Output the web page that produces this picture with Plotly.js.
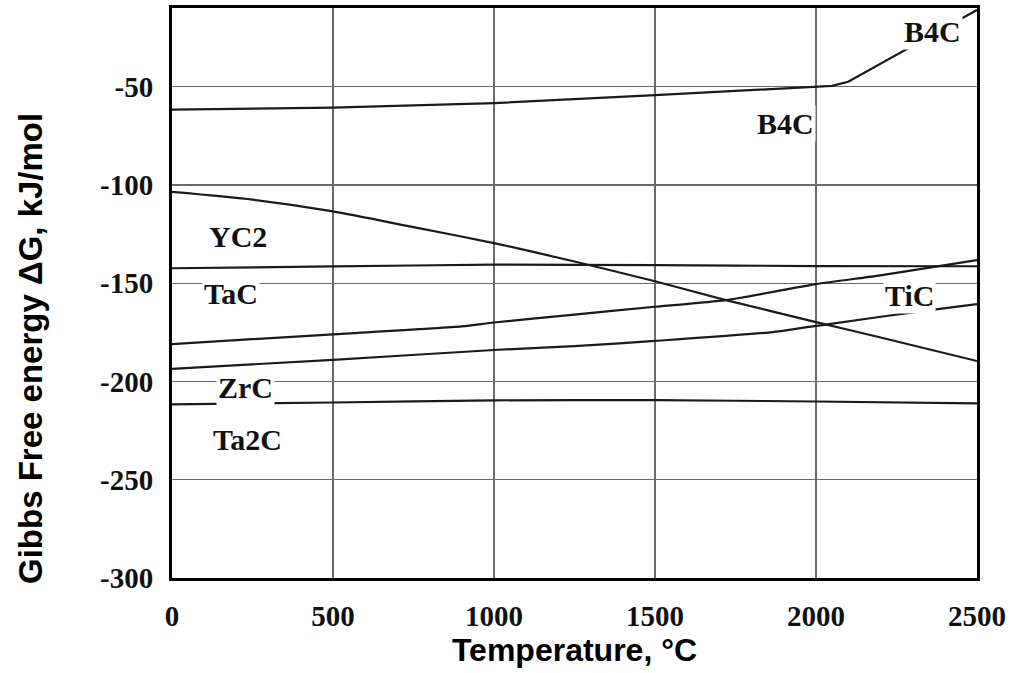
<!DOCTYPE html>
<html>
<head>
<meta charset="utf-8">
<script src="https://cdn.plot.ly/plotly-3.0.1.min.js"></script>
<style>html,body{margin:0;padding:0;background:#fff;}#chart{width:1011px;height:673px;}</style>
</head>
<body>
<div id="chart"></div>
<script>
// Temperature (°C) and ΔG (kJ/mol)
const b4cT   = [0, 500, 1000, 1250, 1500, 1750, 2000, 2050, 2100, 2500];
const b4cG   = [-61.7, -60.7, -58.4, -56.5, -54.3, -52.2, -50.3, -49.6, -47.5, -11];

const yc2T   = [0, 250, 500, 750, 1000, 1250, 1500, 1720, 2000, 2220, 2500];
const yc2G   = [-103.6, -107.5, -113.5, -121.5, -129.6, -139, -149, -158.6, -169.8, -178.4, -189.6];

const tacT   = [0, 500, 1000, 1500, 2000, 2500];
const tacG   = [-142.4, -141.5, -140.6, -140.8, -141.3, -141.4];

const upperT = [0, 500, 900, 1000, 1250, 1500, 1720, 2000, 2200, 2500];
const upperG = [-181, -176, -172, -170, -166, -162, -158.6, -150.5, -146, -138.3];

const ticT   = [0, 500, 1000, 1250, 1500, 1866, 2040, 2330, 2500];
const ticG   = [-193.6, -189, -184, -182, -179.4, -174.9, -170.8, -164.2, -160.7];

const ta2cT  = [0, 500, 1000, 1500, 2000, 2500];
const ta2cG  = [-211.7, -210.7, -209.6, -209.5, -210.2, -211.2];

const labelText = ["B4C", "B4C", "YC2", "TaC", "TiC", "ZrC", "Ta2C"];
const xTicks = [0, 500, 1000, 1500, 2000, 2500];
const yTicks = [-300, -250, -200, -150, -100, -50];

// label placement (data coordinates)
const labelPos = [[2363, -22.2], [1904, -69], [205, -126], [183, -155.5], [2289, -156.5], [227, -203.3], [233, -229.7]];

const series = [[b4cT, b4cG, 'B4C', 'linear'], [yc2T, yc2G, 'YC2', 'spline'], [tacT, tacG, 'TaC', 'spline'],
                [upperT, upperG, 'upper', 'spline'], [ticT, ticG, 'TiC', 'spline'], [ta2cT, ta2cG, 'Ta2C', 'spline']];
const traces = series.map(s => ({x: s[0], y: s[1], name: s[2], type: 'scatter', mode: 'lines',
                                 line: {color: '#1a1a1a', width: 2.2, shape: s[3], smoothing: 0.6},
                                 hoverinfo: 'skip'}));

const serif = {family: 'Liberation Serif, Times New Roman, serif', size: 29, color: '#111', weight: 'bold'};
const sansX = {family: 'Liberation Sans, Arial, sans-serif', size: 32, color: '#000', weight: 'bold'};
const sansY = {family: 'Liberation Sans, Arial, sans-serif', size: 33, color: '#000', weight: 'bold'};

const annotations = labelText.map((t, i) => ({
  text: t, x: labelPos[i][0], y: labelPos[i][1], xref: 'x', yref: 'y',
  showarrow: false, font: {family: serif.family, size: 30, color: '#111', weight: 'bold'},
  bgcolor: '#ffffff', borderpad: 1, xanchor: 'center', yanchor: 'middle'
}));
annotations.push({
  text: 'Gibbs Free energy ΔG, kJ/mol', xref: 'paper', yref: 'paper',
  x: (30 - 172) / 805, y: (578 - 349) / 570, textangle: -90, showarrow: false,
  font: sansY, xanchor: 'center', yanchor: 'middle'
});

const axisCommon = {
  showline: true, linecolor: '#000', linewidth: 3, mirror: true,
  showgrid: true, gridcolor: '#6a6a6a', gridwidth: 1.2, zeroline: false,
  ticks: '', tickfont: serif, fixedrange: true
};

const layout = {
  width: 1011, height: 673,
  margin: {l: 172, r: 34, t: 8, b: 95},
  paper_bgcolor: '#fff', plot_bgcolor: '#fff',
  showlegend: false,
  xaxis: Object.assign({}, axisCommon, {
    range: [0, 2500], tickvals: xTicks, ticktext: xTicks.map(String),
    ticklabelstandoff: 10,
    title: {text: 'Temperature, °C', font: sansX, standoff: 0}
  }),
  yaxis: Object.assign({}, axisCommon, {
    range: [-300, -10], tickvals: yTicks, ticktext: yTicks.map(String),
    ticklabelstandoff: 10
  }),
  annotations: annotations
};

Plotly.newPlot('chart', traces, layout, {displayModeBar: false, staticPlot: true});
</script>
</body>
</html>
